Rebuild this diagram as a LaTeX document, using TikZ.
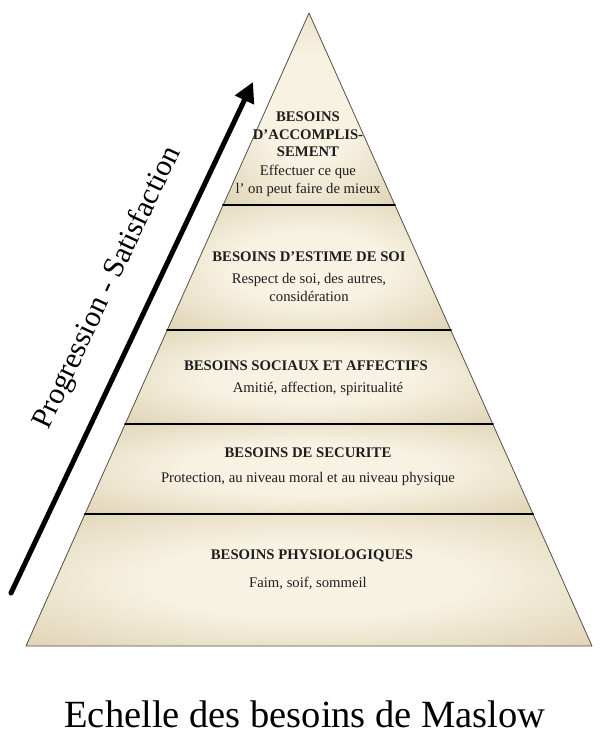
\documentclass[tikz,border=0pt]{standalone}
\usepackage{fontspec}
\setmainfont{Liberation Serif}
\usepackage{tkz-euclide}
\usetikzlibrary{arrows.meta,calc}
\definecolor{PyrLightClr}{RGB}{247,242,226}
\definecolor{PyrDarkClr}{RGB}{208,191,152}
\definecolor{PyrEdgeClr}{RGB}{85,80,70}
\definecolor{TextClr}{RGB}{30,30,30}
\pgfdeclareradialshading{pyrshade}{\pgfpointorigin}{color(0bp)=(PyrLightClr); color(14bp)=(PyrLightClr); color(50bp)=(PyrDarkClr)}
\tikzset{
  levelhead/.style={font=\fontsize{14.7}{17.5}\selectfont\bfseries, text=TextClr, align=center, inner sep=0pt},
  leveltext/.style={font=\fontsize{14.7}{18}\selectfont, text=TextClr, align=center, inner sep=0pt}
}

\begin{document}
\begin{tikzpicture}[x=1pt,y=-1pt]
\useasboundingbox (0,0) rectangle (600,741);
\fill[white] (0,0) rectangle (600,741);

% pyramid corners
\tkzDefPoint(309,13){A}
\tkzDefPoint(26,646){B}
\tkzDefPoint(592,646){C}
% level limits on the sides
\tkzDefPoint(223.2,205){L1}\tkzDefPoint(394.8,205){R1}
\tkzDefPoint(167.3,330){L2}\tkzDefPoint(450.7,330){R2}
\tkzDefPoint(125.3,424){L3}\tkzDefPoint(492.7,424){R3}
\tkzDefPoint(85,514){L4}\tkzDefPoint(533,514){R4}
% arrow ends
\tkzDefPoint(11,593){T}
\tkzDefPoint(253,82){H}

\shade[shading=pyrshade] (A)--(L1)--(R1)--cycle;
\shade[shading=pyrshade] (L1)--(L2)--(R2)--(R1)--cycle;
\shade[shading=pyrshade] (L2)--(L3)--(R3)--(R2)--cycle;
\shade[shading=pyrshade] (L3)--(L4)--(R4)--(R3)--cycle;
\shade[shading=pyrshade] (L4)--(B)--(C)--(R4)--cycle;

\tkzDrawPolygon[color=PyrEdgeClr,line width=0.8pt](A,B,C)
\tkzDrawSegments[line width=2.8pt,color=black](L1,R1 L2,R2 L3,R3 L4,R4)

\tkzDrawSegment[line width=5pt,-{Triangle[length=20pt,width=20pt]}](T,H)
\node[font=\fontsize{30}{36}\selectfont, rotate=64.7] (prog) at (108,288) {Progression - Satisfaction};

\node[levelhead] (accHead) at (308,134.5) {BESOINS\\D'ACCOMPLIS-\\SEMENT};
\node[leveltext] (accText) at (308,180.5) {Effectuer ce que\\l' on peut faire de mieux};

\node[levelhead] (estHead) at (309,257) {BESOINS D'ESTIME DE SOI};
\node[leveltext] (estText) at (309,287) {Respect de soi, des autres,\\considération};

\node[levelhead] (socHead) at (306,366) {BESOINS SOCIAUX ET AFFECTIFS};
\node[leveltext] (socText) at (318,389) {Amitié, affection, spiritualité};

\node[levelhead] (secHead) at (308,453) {BESOINS DE SECURITE};
\node[leveltext] (secText) at (308,479) {Protection, au niveau moral et au niveau physique};

\node[levelhead] (phyHead) at (312,556) {BESOINS PHYSIOLOGIQUES};
\node[leveltext] (phyText) at (308,583) {Faim, soif, sommeil};

\node[font=\fontsize{38.5}{44}\selectfont, anchor=base] (title) at (305,727) {Echelle des besoins de Maslow};
\end{tikzpicture}
\end{document}
